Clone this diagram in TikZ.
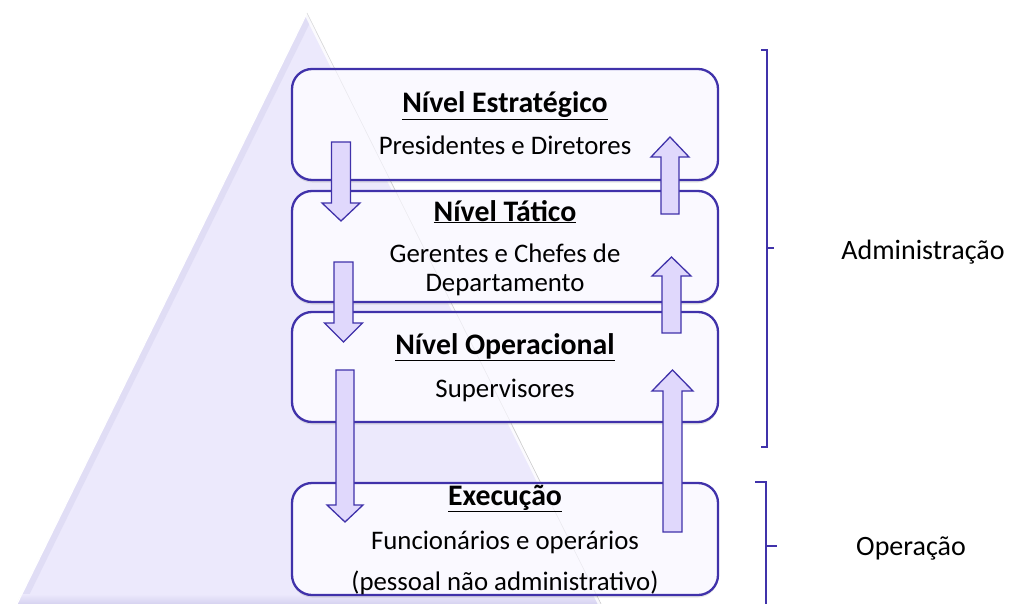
\documentclass[tikz,border=0pt]{standalone}
\usepackage{fontspec}
\setmainfont{Carlito}
\usetikzlibrary{shadows}
\definecolor{bord}{RGB}{64,50,170}
\definecolor{arrfill}{RGB}{224,216,252}
\definecolor{pyr}{RGB}{236,233,252}
\definecolor{pyrdark}{RGB}{214,210,240}
\definecolor{boxfill}{RGB}{250,249,255}
\newcommand{\blockarrow}[6]{%
  \draw[blockarr] ({#1-#5},#2) -- ({#1+#5},#2) -- ({#1+#5},#3) -- ({#1+#6},#3) -- (#1,#4) -- ({#1-#6},#3) -- ({#1-#5},#3) -- cycle;}
\tikzset{
  levelbox/.style={draw=bord, line width=2.3pt, rounded corners=20pt, fill=boxfill,
    minimum width=426pt, inner sep=0pt,
    drop shadow={opacity=0.2, shadow xshift=0pt, shadow yshift=-2.5pt}},
  blockarr/.style={draw=bord, line width=1.3pt, fill=arrfill, line join=miter},
  brk/.style={draw=bord, line width=2.6pt},
  title/.style={anchor=base, font=\fontsize{29.8}{34}\selectfont\bfseries},
  txt/.style={anchor=base, font=\fontsize{26.8}{31}\selectfont},
  side/.style={anchor=base, font=\fontsize{28}{32}\selectfont},
}
\begin{document}
\begin{tikzpicture}[x=1pt,y=-1pt]
\useasboundingbox (0,0) rectangle (1032,604);
% pyramid
\coordinate (apex) at (307,13);
\coordinate (bl) at (17,604);
\coordinate (br) at (601,604);
\fill[pyr] (bl) -- (apex) -- (br) -- cycle;
\begin{scope}
  \clip (bl) -- (apex) -- (br) -- cycle;
  \draw[pyrdark, line width=14pt, opacity=0.5] (bl) -- (apex);
  \fill[top color=pyr, bottom color=pyrdark] (0,594) rectangle (620,604);
  \draw[white, line width=6pt, opacity=0.8] (apex) -- (br);
\end{scope}
\draw[white, line width=1.2pt] (bl) -- (apex);
\draw[black!15, line width=0.6pt] (apex) -- (br);
% boxes
\node[levelbox, minimum height=111pt] (b1) at (505,124.5) {};
\node[levelbox, minimum height=111pt] (b2) at (505,246.5) {};
\node[levelbox, minimum height=110pt] (b3) at (505,367) {};
\node[levelbox, minimum height=112pt] (b4) at (505,539) {};
\begin{scope}
  \clip (b1.north west) rectangle (b4.south east);
  \draw[black!60, line width=0.6pt, opacity=0.1] (apex) -- (br);
\end{scope}
% texts
\node[title] (t1) at (505,113) {\underline{Nível Estratégico}};
\node[txt] (s1) at (505,154) {Presidentes e Diretores};
\node[title] (t2) at (505,221) {\underline{Nível Tático}};
\node[txt] (s2a) at (505,262) {Gerentes e Chefes de};
\node[txt] (s2b) at (505,291) {Departamento};
\node[title] (t3) at (505,354) {\underline{Nível Operacional}};
\node[txt] (s3) at (505,397) {Supervisores};
\node[title] (t4) at (505,505) {\underline{Execução}};
\node[txt] (s4a) at (505,549) {Funcionários e operários};
\node[txt] (s4b) at (505,590) {(pessoal não administrativo)};
% arrows
\blockarrow{341}{142}{203}{221}{9.5}{19}
\blockarrow{343.5}{262}{323}{342}{9.5}{19}
\blockarrow{345}{370}{505}{522}{9}{18}
\blockarrow{670}{214}{157}{137}{9}{19}
\blockarrow{671.5}{333}{276}{257}{9.5}{19.5}
\blockarrow{672.5}{532}{391}{370}{9.5}{20.5}
% brackets
\coordinate (k1a) at (761,50);
\coordinate (k1b) at (761,447);
\draw[brk] (k1a) -- (767,50) -- (767,447) -- (k1b);
\draw[brk] (767,248) -- (774,248);
\coordinate (k2a) at (755,482);
\draw[brk] (k2a) -- (766,482) -- (766,606);
\draw[brk] (766,546) -- (777,546);
\node[side] (adm) at (923,259) {Administração};
\node[side] (op) at (911,555) {Operação};
\end{tikzpicture}
\end{document}
